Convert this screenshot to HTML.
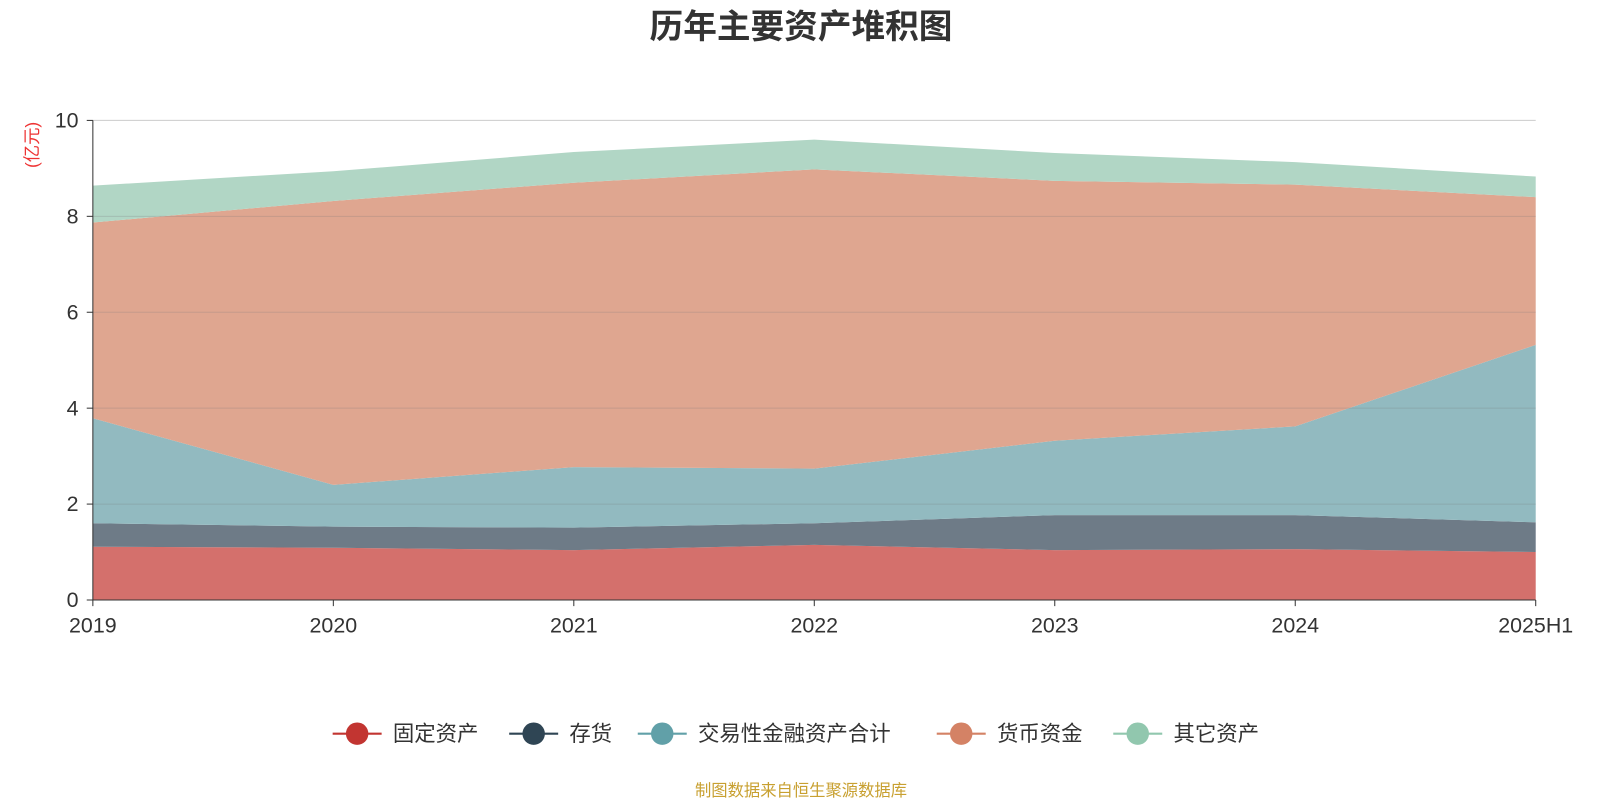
<!DOCTYPE html>
<html><head><meta charset="utf-8">
<style>
html,body{margin:0;padding:0;background:#fff;width:1600px;height:800px;overflow:hidden;font-family:"Liberation Sans","Noto Sans CJK SC",sans-serif;}
svg text{font-family:"Liberation Sans","Noto Sans CJK SC",sans-serif;}
</style></head><body>
<svg id="chart" width="1600" height="800" viewBox="0 0 1568 784" xmlns="http://www.w3.org/2000/svg">
<text x="785" y="37" text-anchor="middle" font-size="33" font-weight="bold" fill="#333">历年主要资产堆积图</text>
<text transform="translate(37,142) rotate(-90)" text-anchor="middle" font-size="17" fill="#e33">(亿元)</text>
<g id="areas"></g><g id="grid"></g><g id="axes"></g><g id="legend"></g>
<text x="785" y="780" text-anchor="middle" font-size="16" fill="#c8a030">制图数据来自恒生聚源数据库</text>
</svg>
<script>
const categories=["2019","2020","2021","2022","2023","2024","2025H1"];
const seriesNames=["固定资产","存货","交易性金融资产合计","货币资金","其它资产"];
const fixedAssets=[1.11,1.09,1.04,1.15,1.04,1.06,1.00];
const inventory=[0.49,0.44,0.47,0.45,0.73,0.71,0.62];
const tradingAssets=[2.19,0.87,1.26,1.14,1.55,1.85,3.70];
const cash=[4.08,5.92,5.93,6.24,5.42,5.04,3.08];
const otherAssets=[0.77,0.62,0.64,0.62,0.58,0.47,0.43];
const yTicks=[0,2,4,6,8,10];
const NS="http://www.w3.org/2000/svg";
const X0=91,X1=1505,Y0=588,Y1=118,YMAX=10;
const xs=i=>X0+(X1-X0)*i/(categories.length-1);
const ys=v=>Y0-(Y0-Y1)*v/YMAX;
const lineColors=["#c23531","#2f4554","#61a0a8","#d48265","#91c7ae"];
const fillColors=["#d4706c","#6e7b87","#92bac0","#dfa690","#b1d6c5"];
const areaNames=["area-fixed-assets","area-inventory","area-trading-assets","area-cash","area-other-assets"];
const all=[fixedAssets,inventory,tradingAssets,cash,otherAssets];
function mk(t,a,p){const e=document.createElementNS(NS,t);for(const k in a)e.setAttribute(k,a[k]);p.appendChild(e);return e;}
let base=categories.map(()=>0);
const areas=document.getElementById('areas');
all.forEach((s,k)=>{
  const top=base.map((b,i)=>b+s[i]);
  let d="M"+categories.map((c,i)=>xs(i)+","+ys(top[i])).join(" L");
  for(let i=categories.length-1;i>=0;i--)d+=" L"+xs(i)+","+ys(base[i]);
  d+="Z";
  const p=mk('path',{d:d,fill:fillColors[k],stroke:'none'},areas);
  
  
  base=top;
});
const grid=document.getElementById('grid');
const axes=document.getElementById('axes');
yTicks.forEach(v=>{
  if(v>0){const l=mk('line',{x1:X0,x2:X1,y1:ys(v),y2:ys(v),stroke:v===YMAX?'#ccc':'rgba(120,120,120,0.25)','stroke-width':1},grid);
  
  }
  mk('line',{x1:X0-6,x2:X0,y1:ys(v),y2:ys(v),stroke:'#333'},axes);
  const t=mk('text',{x:X0-14,y:ys(v)+7,'text-anchor':'end','font-size':21,fill:'#333'},axes);
  t.textContent=v;
  
  
});
const ya=mk('line',{x1:X0,x2:X0,y1:Y1,y2:Y0,stroke:'#333'},axes);


const xa=mk('line',{x1:X0,x2:X1,y1:Y0,y2:Y0,stroke:'#333'},axes);


categories.forEach((c,i)=>{
  mk('line',{x1:xs(i),x2:xs(i),y1:Y0,y2:Y0+6,stroke:'#333'},axes);
  const t=mk('text',{x:xs(i),y:620,'text-anchor':'middle','font-size':21,fill:'#333'},axes);
  t.textContent=c;
  
  
});
const legend=document.getElementById('legend');
const lx=[326,499,625,918,1091];
seriesNames.forEach((n,k)=>{
  const g=mk('g',{},legend);
  
  
  mk('line',{x1:lx[k],x2:lx[k]+48,y1:719,y2:719,stroke:lineColors[k],'stroke-width':2},g);
  mk('circle',{cx:lx[k]+24,cy:719,r:11,fill:lineColors[k]},g);
  const t=mk('text',{x:lx[k]+59,y:726,'font-size':21,fill:'#333'},g);
  t.textContent=n;
});
</script>
</body></html>
